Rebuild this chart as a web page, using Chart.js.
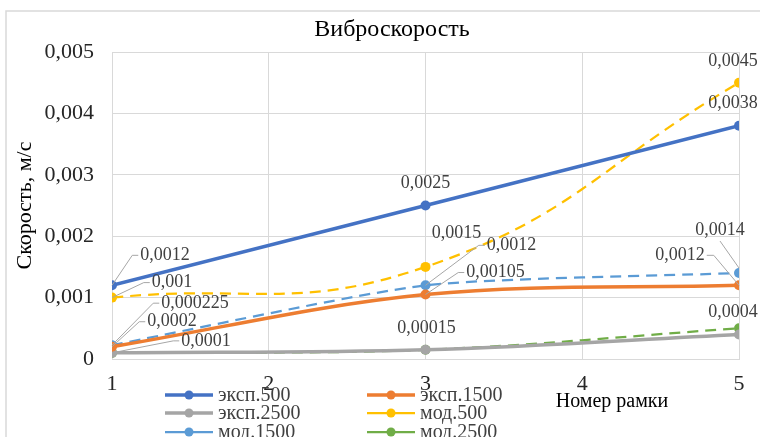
<!DOCTYPE html>
<html>
<head>
<meta charset="utf-8">
<script src="https://cdn.jsdelivr.net/npm/chart.js@4"></script>
<style>
  html, body { margin: 0; padding: 0; background: #fff; }
  #wrap { width: 760px; height: 437px; }
</style>
</head>
<body>
<div id="wrap"><canvas id="myChart" width="760" height="437"></canvas></div>
<script>
const frames = [1, 3, 5];
const yTicks = [0, 0.001, 0.002, 0.003, 0.004, 0.005];

const exp500  = [0.0012, 0.0025, 0.0038];
const exp1500 = [0.0002, 0.00105, 0.0012];
const exp2500 = [0.0001, 0.00015, 0.0004];
const mod500  = [0.001, 0.0015, 0.0045];
const mod1500 = [0.000225, 0.0012, 0.0014];
const mod2500 = [0.0001, 0.00015, 0.0005];

const names = ['эксп.500', 'эксп.1500', 'эксп.2500', 'мод.500', 'мод.1500', 'мод.2500'];

// data label texts (null = no label)
const labels500e  = ['0,0012', '0,0025', '0,0038'];
const labels1500e = ['0,0002', '0,00105', '0,0012'];
const labels2500e = ['0,0001', '0,00015', '0,0004'];
const labels500m  = ['0,001', '0,0015', '0,0045'];
const labels1500m = ['0,000225', '0,0012', '0,0014'];
const labels2500m = [null, null, null];

// label offsets from the point [dx, dy, leader]
const offs = [
  [[53, -30, 1], [0, -22, 0], [-6, -22, 0]],
  [[60, -25, 1], [70, -22, 1], [-59, -30, 2]],
  [[94, -12, 1], [1, -22, 0], [-6, -22, 0]],
  [[60, -15, 1], [31, -34, 0], [-6, -21, 0]],
  [[83, -42, 1], [86, -40, 1], [-19, -43, 3]],
  [[0, 0, 0], [0, 0, 0], [0, 0, 0]]
];

function pts(vals) {
  return frames.map((f, i) => ({ x: f, y: vals[i] }));
}

const colors = ['#4472C4', '#ED7D31', '#A5A5A5', '#FFC000', '#5B9BD5', '#70AD47'];
const serif = '"Liberation Serif", "DejaVu Serif", serif';

function ds(i, vals, lbls, dashed, tension) {
  return {
    label: names[i],
    data: pts(vals),
    lbls: lbls,
    borderColor: colors[i],
    backgroundColor: colors[i],
    borderWidth: dashed ? 2.25 : 3.5,
    borderDash: dashed ? [11, 7] : [],
    pointRadius: 5,
    pointBorderWidth: 0,
    tension: tension,
    cubicInterpolationMode: 'default'
  };
}

const datasets = [
  ds(0, exp500, labels500e, false, 0),
  ds(1, exp1500, labels1500e, false, 0.35),
  ds(2, exp2500, labels2500e, false, 0.35),
  ds(3, mod500, labels500m, true, 0.45),
  ds(4, mod1500, labels1500m, true, 0.2),
  ds(5, mod2500, labels2500m, true, 0.35)
];
// first series on top
datasets.forEach((d, i) => { d.order = i; });

const decor = {
  id: 'decor',
  afterDraw(chart) {
    const ctx = chart.ctx;
    ctx.save();
    // outer border
    ctx.strokeStyle = '#d9d9d9';
    ctx.lineWidth = 1.5;
    ctx.strokeRect(6, 11, 800, 500);

    // title
    ctx.fillStyle = '#000';
    ctx.font = '24px ' + serif;
    ctx.textAlign = 'center';
    ctx.textBaseline = 'middle';
    ctx.fillText('Виброскорость', 392, 30);

    // x axis title
    ctx.font = '20px ' + serif;
    ctx.fillText('Номер рамки', 612, 402);

    // data labels
    ctx.font = '18px ' + serif;
    chart.data.datasets.forEach((d, di) => {
      const meta = chart.getDatasetMeta(di);
      meta.data.forEach((p, i) => {
        const t = d.lbls[i];
        if (!t) return;
        const o = offs[di][i];
        const tx = p.x + o[0], ty = p.y + o[1];
        const w = ctx.measureText(t).width;
        ctx.fillStyle = '#404040';
        ctx.textAlign = 'center';
        ctx.fillText(t, tx, ty);
        if (o[2]) {
          ctx.strokeStyle = '#a6a6a6';
          ctx.lineWidth = 1;
          ctx.beginPath();
          if (o[2] === 1) {
            const lx = tx - w / 2 - 2;
            ctx.moveTo(p.x, p.y);
            ctx.lineTo(lx - 6, ty);
            ctx.lineTo(lx, ty);
          } else if (o[2] === 2) {
            const lx = tx + w / 2 + 2;
            ctx.moveTo(p.x, p.y);
            ctx.lineTo(lx + 7, ty);
            ctx.lineTo(lx, ty);
          } else {
            ctx.moveTo(p.x, p.y - 5);
            ctx.lineTo(tx, ty + 11);
          }
          ctx.stroke();
        }
      });
    });

    // legend
    ctx.font = '20px ' + serif;
    ctx.textAlign = 'left';
    const cols = [165, 367];
    const rows = [395, 413, 432];
    chart.data.datasets.forEach((d, i) => {
      const x = cols[i % 2], y = rows[Math.floor(i / 2)];
      ctx.strokeStyle = d.borderColor;
      ctx.lineWidth = i < 3 ? 3.5 : 2.25;
      ctx.beginPath();
      ctx.moveTo(x, y);
      ctx.lineTo(x + 48, y);
      ctx.stroke();
      ctx.fillStyle = d.borderColor;
      ctx.beginPath();
      ctx.arc(x + 24, y, 4.5, 0, Math.PI * 2);
      ctx.fill();
      ctx.fillStyle = '#404040';
      ctx.fillText(d.label, x + 53, y + 1);
    });
    ctx.restore();
  }
};

const config = {
  type: 'line',
  data: { datasets: datasets },
  options: {
    responsive: false,
    animation: false,
    layout: { padding: { top: 52, right: 21, left: 0, bottom: 0 } },
    plugins: {
      legend: { display: false },
      tooltip: { enabled: false }
    },
    scales: {
      x: {
        type: 'linear',
        min: 1,
        max: 5,
        ticks: { stepSize: 1, color: '#262626', font: { family: serif, size: 22 }, padding: 12 },
        grid: { color: '#d9d9d9', drawTicks: false },
        border: { color: '#d9d9d9' },
        afterFit(s) { s.height = 78; }
      },
      y: {
        min: 0,
        max: 0.005,
        afterBuildTicks(s) { s.ticks = yTicks.map(v => ({ value: v })); },
        ticks: {
          color: '#262626',
          font: { family: serif, size: 22 },
          padding: 18,
          callback: v => v === 0 ? '0' : (Math.round(v * 1000) / 1000).toFixed(3).replace('.', ',')
        },
        grid: { color: '#d9d9d9', drawTicks: false },
        border: { display: false },
        title: {
          display: true,
          text: 'Скорость, м/с',
          color: '#000',
          font: { family: serif, size: 22 },
          padding: { top: 12, bottom: 0 }
        },
        afterFit(s) { s.width = 112; }
      }
    }
  },
  plugins: [decor]
};

const myChart = new Chart(document.getElementById('myChart'), config);
</script>
</body>
</html>
